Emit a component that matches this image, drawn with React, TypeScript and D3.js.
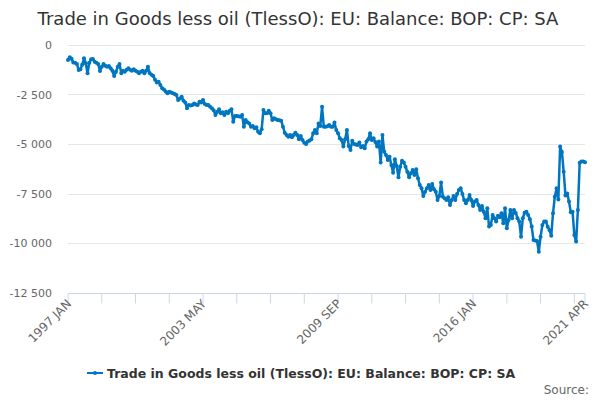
import { useEffect, useRef } from "react";
import * as d3 from "d3";

const TITLE = "Trade in Goods less oil (TlessO): EU: Balance: BOP: CP: SA";
const SERIES_NAME = "Trade in Goods less oil (TlessO): EU: Balance: BOP: CP: SA";
const START_YEAR = 1997;
const MONTHS = ["JAN", "FEB", "MAR", "APR", "MAY", "JUN", "JUL", "AUG", "SEP", "OCT", "NOV", "DEC"];

// monthly values, 1997 JAN .. 2021 APR, one row per year
const values = [
  -760, -620, -700, -890, -900, -960, -1260, -1230, -1000, -670, -920, -1430,
  -900, -720, -710, -840, -900, -960, -1310, -1100, -960, -1050, -1100, -1060,
  -1180, -1300, -1570, -1350, -1100, -960, -1430, -1300, -1350, -1250, -1180, -1250,
  -1300, -1230, -1300, -1350, -1430, -1350, -1300, -1430, -1300, -1100, -1430, -1500,
  -1570, -1750, -1900, -1850, -2020, -2190, -2250, -2350, -2440, -2360, -2400, -2440,
  -2480, -2520, -2780, -2700, -2610, -2810, -2900, -3200, -3030, -3050, -3030, -2950,
  -3000, -3030, -2860, -2900, -2780, -2980, -3030, -3030, -3120, -3200, -3300, -3540,
  -3370, -3250, -3450, -3400, -3540, -3370, -3450, -3320, -3250, -3870, -3590, -3590,
  -3600, -3620, -3540, -4130, -3790, -3900, -3960, -4130, -4090, -4210, -4160, -4380,
  -4460, -4260, -3280, -3450, -3450, -3320, -3450, -3790, -3700, -3750, -3790, -3800,
  -3820, -4130, -4430, -4550, -4630, -4550, -4660, -4550, -4430, -4550, -4760, -4600,
  -4800, -4940, -5000, -4880, -4820, -4760, -4460, -4290, -4460, -3960, -4090, -3120,
  -4130, -4130, -4100, -4040, -4130, -4130, -3920, -4290, -4460, -4710, -4800, -5130,
  -4760, -4290, -5100, -5300, -4830, -5000, -5030, -5050, -4930, -5170, -5100, -5220,
  -4880, -4760, -4460, -4800, -4710, -4900, -5130, -4880, -5940, -4550, -5390, -5560,
  -5810, -5640, -6060, -6450, -5770, -6110, -6680, -6150, -5840, -5940, -6150, -6400,
  -6680, -6480, -6310, -6560, -6280, -6730, -7070, -7240, -7630, -7410, -7240, -7070,
  -7320, -7020, -7290, -7410, -7830, -7630, -6950, -7660, -7740, -7830, -7690, -8080,
  -7830, -7630, -7830, -7520, -7320, -7240, -7520, -7830, -7990, -7830, -7580, -7830,
  -8130, -7910, -7830, -8080, -8330, -8130, -8420, -8750, -8250, -9170, -9090, -8580,
  -8750, -8920, -8630, -8700, -8500, -9000, -8250, -9260, -8840, -8330, -8750, -8330,
  -8480, -8750, -8920, -9680, -8750, -8470, -8420, -8580, -8800, -9170, -9850, -9880,
  -9900, -10440, -9680, -9090, -8920, -8920, -9180, -9340, -9630, -8500, -7660, -7240,
  -7800, -5130, -5400, -6400, -7600, -7500, -7900, -8450, -8420, -9600, -9930, -8330,
  -5950, -5880, -5880, -5920,
];

const yTicks = [0, -2500, -5000, -7500, -10000, -12500];
const tickStep = 19;
const labelIndex = [0, 76, 152, 228, 291];

const W = 600;
const H = 400;
const M = { top: 45, right: 15, bottom: 107.5, left: 68 };
const BLUE = "#0076c0";
const FONT = "'DejaVu Sans', Verdana, sans-serif";

const monthLabel = (i: number) => `${START_YEAR + Math.floor(i / 12)} ${MONTHS[i % 12]}`;
const fmt = (v: number) => d3.format(",")(v).replace(/,/g, " ").replace("−", "-");

export default function App() {
  const svgRef = useRef<SVGSVGElement>(null);

  useEffect(() => {
    if (!svgRef.current) return;
    const svg = d3.select(svgRef.current);
    svg.selectAll("*").remove();

    const last = values.length - 1;
    const x = d3.scaleLinear().domain([0, last]).range([M.left, W - M.right]);
    const y = d3.scaleLinear().domain([-12500, 0]).range([H - M.bottom, M.top]);

    svg
      .append("text")
      .attr("x", W / 2 - 2)
      .attr("y", 25)
      .attr("text-anchor", "middle")
      .attr("font-family", FONT)
      .attr("font-size", 18)
      .attr("fill", "#333333")
      .text(TITLE);

    // gridlines + y labels
    const grid = svg.append("g");
    yTicks.forEach((t) => {
      if (t !== -12500) {
        grid
          .append("line")
          .attr("x1", M.left)
          .attr("x2", W - M.right)
          .attr("y1", Math.round(y(t)) + 0.5)
          .attr("y2", Math.round(y(t)) + 0.5)
          .attr("stroke", "#e6e6e6");
      }
      grid
        .append("text")
        .attr("x", 52)
        .attr("y", y(t) + 4)
        .attr("text-anchor", "end")
        .attr("font-family", FONT)
        .attr("font-size", 11)
        .attr("fill", "#666666")
        .text(fmt(t));
    });

    // x axis
    const ticks = d3.range(0, last, tickStep).concat([last]);
    const axisY = Math.round(y(-12500)) + 0.5;
    const ax = svg.append("g");
    ax.append("line")
      .attr("x1", M.left)
      .attr("x2", W - M.right)
      .attr("y1", axisY)
      .attr("y2", axisY)
      .attr("stroke", "#ccd6eb");
    ticks.forEach((i) => {
      ax.append("line")
        .attr("x1", x(i))
        .attr("x2", x(i))
        .attr("y1", axisY)
        .attr("y2", axisY + 10)
        .attr("stroke", "#ccd6eb");
    });
    labelIndex.forEach((i) => {
      ax.append("text")
        .attr("transform", `translate(${x(i) + 4},${axisY + 11}) rotate(-45)`)
        .attr("text-anchor", "end")
        .attr("font-family", FONT)
        .attr("font-size", 12)
        .attr("fill", "#666666")
        .text(monthLabel(i));
    });

    // series
    const line = d3
      .line<number>()
      .x((_, i) => x(i))
      .y((d) => y(d));
    svg
      .append("path")
      .datum(values)
      .attr("d", line)
      .attr("fill", "none")
      .attr("stroke", BLUE)
      .attr("stroke-width", 2.5)
      .attr("stroke-linejoin", "round");
    svg
      .append("g")
      .selectAll("circle")
      .data(values)
      .join("circle")
      .attr("cx", (_, i) => x(i))
      .attr("cy", (d) => y(d))
      .attr("r", 2)
      .attr("fill", BLUE);

    // legend
    const lg = svg.append("g").attr("transform", "translate(87,373)");
    lg.append("line").attr("x1", 0).attr("x2", 16).attr("stroke", BLUE).attr("stroke-width", 2);
    lg.append("circle").attr("cx", 8).attr("r", 2).attr("fill", BLUE);
    lg.append("text")
      .attr("x", 20)
      .attr("y", 5)
      .attr("font-family", FONT)
      .attr("font-size", 12.5)
      .attr("font-weight", "bold")
      .attr("fill", "#333333")
      .text(SERIES_NAME);

    svg
      .append("text")
      .attr("x", 589)
      .attr("y", 394)
      .attr("text-anchor", "end")
      .attr("font-family", FONT)
      .attr("font-size", 12)
      .attr("fill", "#666666")
      .text("Source:");
  }, []);

  return (
    <svg
      ref={svgRef}
      width={W}
      height={H}
      style={{ position: "absolute", left: 0, top: 0, background: "#ffffff" }}
    />
  );
}
